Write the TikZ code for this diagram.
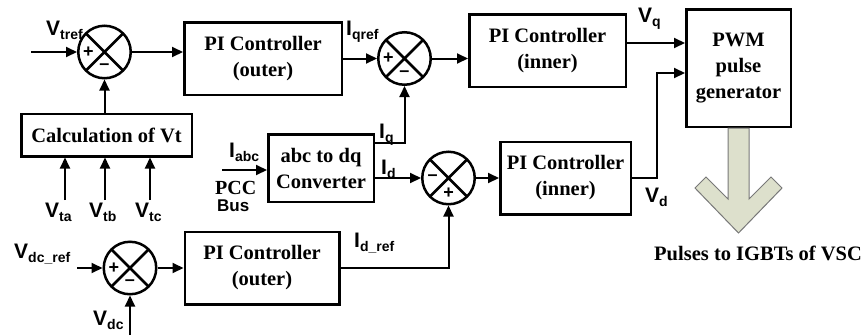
\documentclass[tikz,border=0pt]{standalone}
\usepackage{fontspec}
\setmainfont{Liberation Serif}
\setsansfont{Liberation Sans}
\usepackage{xcolor}
\usepackage{tikz}
\usetikzlibrary{arrows.meta, positioning}
\definecolor{pulsefill}{RGB}{221, 224, 204}
\definecolor{pulsedraw}{RGB}{120, 120, 120}
\newcommand{\sg}[2]{{\fontsize{21}{22}\selectfont #1}\raisebox{-4pt}{\fontsize{14}{15}\selectfont #2}}

\begin{document}
\begin{tikzpicture}[
    x=1pt, y=1pt,
    block/.style={rectangle, draw, line width=2.5pt, align=center, inner sep=2pt,
                  minimum height=72.5pt,
                  font=\bfseries\fontsize{20.5}{26}\selectfont},
    sumjunc/.style 2 args={circle, draw, line width=2.5pt, minimum size=52.5pt, inner sep=0pt,
                  path picture={\draw[line width=2.5pt]
                      (path picture bounding box.north west) -- (path picture bounding box.south east)
                      (path picture bounding box.north east) -- (path picture bounding box.south west);},
                  label={[sign, xshift=-16pt]center:#1},
                  label={[sign, yshift=-15pt]center:#2}},
    sign/.style={font=\sffamily\bfseries\fontsize{18}{18}\selectfont, inner sep=0pt},
    sig/.style={font=\sffamily\bfseries, inner sep=0pt, anchor=base west},
    arrow/.style={-{Triangle[length=11pt, width=10pt]}, line width=2pt}
]
    \useasboundingbox (0,0) rectangle (867,-335);

    % Blocks
    \node[sumjunc={+}{--}] (sum1) at (104.5,-52) {};
    \node[block, minimum width=157.5pt, right=51pt of sum1, yshift=-6.5pt] (piout1) {PI Controller\\(outer)};
    \node[sumjunc={+}{--}, right=34pt of piout1] (sum2) {};
    \node[block, minimum width=156.5pt, right=36pt of sum2, yshift=8pt] (piin1) {PI Controller\\(inner)};
    \node[block, minimum width=104.5pt, minimum height=117.5pt] (pwm) at (738.5,-68) {PWM\\pulse\\generator};
    \node[block, minimum width=170.5pt, minimum height=42.5pt, below=33pt of sum1, xshift=2pt] (calc) {Calculation of Vt};
    \node[block, minimum width=105.5pt, minimum height=67.5pt] (abc) at (321,-168) {abc to dq\\Converter};
    \node[sumjunc={--}{+}] (sum4) at (448.5,-178) {};
    \node[block, minimum width=130.5pt, right=23pt of sum4] (piin2) {PI Controller\\(inner)};
    \node[sumjunc={+}{--}] (sum3) at (130,-268) {};
    \node[block, minimum width=154.5pt, right=26pt of sum3] (piout2) {PI Controller\\(outer)};

    % Signal names
    \node[sig] (vtref) at (46,-35) {\sg{V}{tref}};
    \node[sig] (vta) at (45,-217) {\sg{V}{ta}};
    \node[sig] (vtb) at (89,-217) {\sg{V}{tb}};
    \node[sig] (vtc) at (135,-217) {\sg{V}{tc}};
    \node[sig] (vdcref) at (14,-258) {\sg{V}{dc\_ref}};
    \node[sig] (vdc) at (93,-325) {\sg{V}{dc}};
    \node[sig] (iabc) at (229,-157) {\sg{I}{abc}};
    \node[anchor=base west, inner sep=0pt, font=\bfseries\fontsize{20}{20}\selectfont] (pcc) at (215,-194) {PCC};
    \node[sig, font=\sffamily\bfseries\fontsize{17}{17}\selectfont] (bus) at (217,-211) {Bus};
    \node[sig] (iqref) at (346,-35) {\sg{I}{qref}};
    \node[sig] (iq) at (379,-138) {\sg{I}{q}};
    \node[sig] (id) at (381,-174) {\sg{I}{d}};
    \node[sig] (idref) at (354,-247) {\sg{I}{d\_ref}};
    \node[sig] (vq) at (638,-22) {\sg{V}{q}};
    \node[sig] (vd) at (645,-202) {\sg{V}{d}};
    \node[anchor=base west, inner sep=0pt, font=\bfseries\fontsize{20.5}{20}\selectfont] (pulses) at (654,-260) {Pulses to IGBTs of VSC};

    % Free ends
    \coordinate (vtrefin) at (31,-52);
    \coordinate (vtain) at (65,-200);
    \coordinate (vtbin) at (105,-200);
    \coordinate (vtcin) at (150,-200);
    \coordinate (iabcin) at (222,-170);
    \coordinate (vdcrefin) at (77,-268);
    \coordinate (vdcin) at (130,-335);

    % Arrows
    \draw[arrow] (vtrefin) -- (sum1);
    \draw[arrow] (sum1.east) -- (sum1.east -| piout1.west);
    \draw[arrow] (calc.north -| sum1) -- (sum1);
    \draw[arrow] (vtain) -- (vtain |- calc.south);
    \draw[arrow] (vtbin) -- (vtbin |- calc.south);
    \draw[arrow] (vtcin) -- (vtcin |- calc.south);
    \draw[arrow] (piout1) -- (sum2);
    \draw[arrow] (sum2.east) -- (sum2.east -| piin1.west);
    \draw[arrow] ([yshift=25pt]abc.east) -| (sum2);
    \draw[arrow] ([yshift=-10pt]abc.east) -- (sum4);
    \draw[arrow] (iabcin) -- (iabcin -| abc.west);
    \draw[arrow] (sum4) -- (piin2);
    \draw[arrow] (vdcrefin) -- (sum3);
    \draw[arrow] (vdcin) -- (sum3);
    \draw[arrow] (sum3) -- (piout2);
    \draw[arrow] (piout2) -| (sum4);
    \draw[arrow] ([yshift=7.5pt]piin1.east) -- ([yshift=7.5pt]piin1.east -| pwm.west);
    \draw[arrow] (piin2.east) -- ++(25,0) |- ([yshift=-5pt]pwm.west);

    % Output pulses
    \draw[pulsedraw, fill=pulsefill, line width=1pt] ([xshift=-10.5pt]pwm.south) -- ++(0,-71) -- ++(-22,22) -- ++(-11,-11)
        -- ++(43.5,-45) -- ++(43.5,45) -- ++(-11,11) -- ++(-22,-22) -- ++(0,71) -- cycle;

\end{tikzpicture}
\end{document}
